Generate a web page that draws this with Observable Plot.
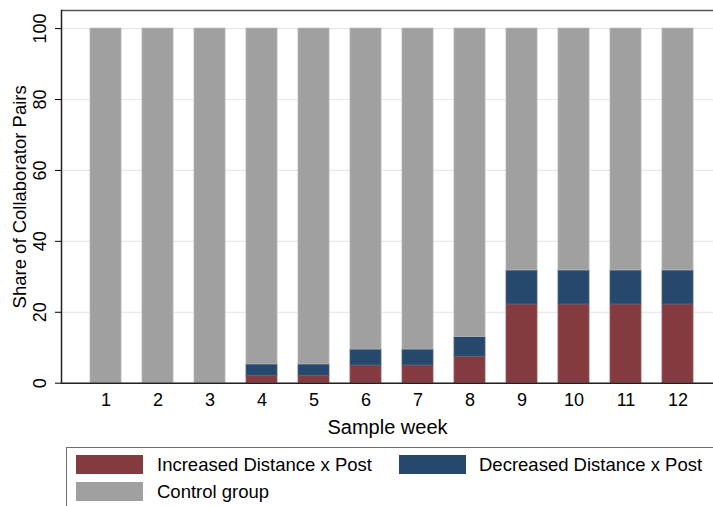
<!DOCTYPE html>
<html>
<head>
<meta charset="utf-8">
<script src="https://cdn.jsdelivr.net/npm/d3@7"></script>
<script src="https://cdn.jsdelivr.net/npm/@observablehq/plot@0.6"></script>
<style>
  html, body { margin: 0; padding: 0; background: #fff; overflow: hidden; }
  #wrap { position: relative; width: 713px; height: 506px; font-family: "Liberation Sans", Arial, Helvetica, sans-serif; }
  #legend { position: absolute; left: 66px; top: 447px; width: 700px; height: 80px; border: 1.5px solid #6e6e6e; box-sizing: border-box; }
  .sw { position: absolute; width: 67px; height: 19px; }
  .lt { position: absolute; font-size: 18.5px; color: #000; line-height: 19px; white-space: nowrap; }
</style>
</head>
<body>
<div id="wrap"></div>
<script>
const weeks = [1, 2, 3, 4, 5, 6, 7, 8, 9, 10, 11, 12];
const increased = [0, 0, 0, 2.1, 2.1, 5.0, 5.0, 7.5, 22.2, 22.2, 22.2, 22.2];
const decreased = [0, 0, 0, 3.2, 3.2, 4.5, 4.5, 5.5, 9.6, 9.6, 9.6, 9.6];
const control = [100, 100, 100, 94.7, 94.7, 90.5, 90.5, 87.0, 68.2, 68.2, 68.2, 68.2];
const groups = ["Increased Distance x Post", "Decreased Distance x Post", "Control group"];
const colors = ["#843b3f", "#26486d", "#a0a0a0"];
const outlines = ["#96585b", "#4a6585", "#b4b4b4"];
const yTicks = [0, 20, 40, 60, 80, 100];

const rows = [];
weeks.forEach((w, i) => {
  rows.push({week: w, group: groups[0], value: increased[i]});
  rows.push({week: w, group: groups[1], value: decreased[i]});
  rows.push({week: w, group: groups[2], value: control[i]});
});
const outlineOf = Object.fromEntries(groups.map((g, i) => [g, outlines[i]]));

const yMax = 105.1;
const chart = Plot.plot({
  width: 713,
  height: 445,
  marginLeft: 61,
  marginRight: 0,
  marginTop: 10,
  marginBottom: 62.3,
  style: {fontFamily: '"Liberation Sans", Arial, Helvetica, sans-serif', color: "#000", background: "#fff"},
  x: {type: "band", domain: weeks, paddingInner: 0.403, paddingOuter: 0.417, align: 0.595, label: null},
  y: {domain: [0, yMax], label: null},
  color: {domain: groups, range: colors},
  marks: [
    Plot.gridY(yTicks, {stroke: "#e8e8e8", strokeOpacity: 1, strokeWidth: 1.2}),
    Plot.barY(rows, {x: "week", y: "value", z: "group", fill: "group", stroke: d => outlineOf[d.group], strokeWidth: 0.8}),
    Plot.ruleY([0], {stroke: "#222", strokeWidth: 1.5}),
    Plot.ruleY([yMax], {stroke: "#555", strokeWidth: 1.5}),
    Plot.frame({anchor: "left", stroke: "#222", strokeWidth: 1.5}),
    Plot.axisY(yTicks, {tickSize: 6, label: null, text: () => ""}),
    Plot.text(yTicks, {y: d => d, text: d => String(d), frameAnchor: "left", dx: -21, rotate: -90, fontSize: 18, textAnchor: "middle", lineAnchor: "middle", fill: "#000"}),
    Plot.axisX({tickSize: 0, tickPadding: 10, fontSize: 18, label: null}),
    Plot.text(["Sample week"], {frameAnchor: "bottom", dy: 44, fontSize: 20, fill: "#000", textAnchor: "middle", lineAnchor: "middle"}),
    Plot.text(["Share of Collaborator Pairs"], {frameAnchor: "left", dx: -41, rotate: -90, fontSize: 18.5, fill: "#000", textAnchor: "middle", lineAnchor: "middle"})
  ]
});

const wrap = document.getElementById("wrap");
wrap.appendChild(chart);

const legend = document.createElement("div");
legend.id = "legend";
const items = [
  {x: 9, y: 7, tx: 90, g: 0},
  {x: 332, y: 7, tx: 412, g: 1},
  {x: 9, y: 33.5, tx: 90, g: 2}
];
items.forEach(it => {
  const sw = document.createElement("div");
  sw.className = "sw";
  sw.style.left = it.x + "px";
  sw.style.top = it.y + "px";
  sw.style.background = colors[it.g];
  legend.appendChild(sw);
  const t = document.createElement("div");
  t.className = "lt";
  t.style.left = it.tx + "px";
  t.style.top = it.y + "px";
  t.textContent = groups[it.g];
  legend.appendChild(t);
});
wrap.appendChild(legend);
</script>
</body>
</html>
